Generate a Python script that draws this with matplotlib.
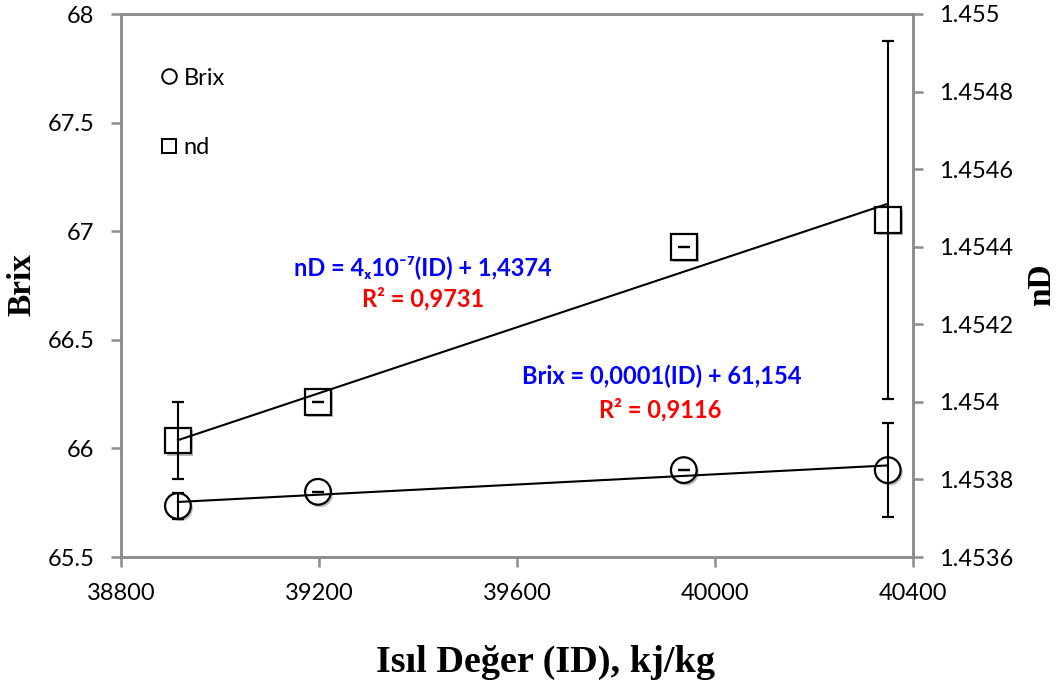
import numpy as np
import matplotlib
matplotlib.use("Agg")
import matplotlib.pyplot as plt
import matplotlib.patheffects as pe
from matplotlib.lines import Line2D
from matplotlib.ticker import FuncFormatter, MultipleLocator

# data
isil_deger = [38915, 39198, 39937, 40349]
brix = [65.735, 65.80, 65.90, 65.90]
brix_err = [0.058, 0.0, 0.0, 0.217]
nd = [1.45390, 1.45400, 1.45440, 1.454469]
nd_err = [0.0001, 0.0, 0.0, 0.000462]

plt.rcParams['font.family'] = ['Lato', 'DejaVu Sans']

fig = plt.figure(figsize=(10.62, 6.84), dpi=100)
ax1 = fig.add_axes([121/1062, 1-557/684, (913-121)/1062, (557-14)/684])
ax2 = ax1.twinx()

shadow = [pe.SimplePatchShadow(offset=(1.5, -1.8), shadow_rgbFace='0.35', alpha=0.4), pe.Normal()]

# brix (left axis)
ax1.plot(isil_deger, brix, 'o', ms=18.5, mfc='white', mec='black', mew=1.6,
         path_effects=shadow, zorder=2)
ax1.errorbar(isil_deger, brix, yerr=brix_err, fmt='none', ecolor='black',
             elinewidth=1.5, capsize=4, capthick=1.6, zorder=3)
k, b = np.polyfit(isil_deger, brix, 1)
xs = np.array([isil_deger[0], isil_deger[-1]])
ax1.plot(xs, k*xs + b, color='black', lw=1.5, zorder=4)

# nD (right axis)
ax2.plot(isil_deger, nd, 's', ms=18.5, mfc='white', mec='black', mew=1.6,
         path_effects=shadow, zorder=2)
ax2.errorbar(isil_deger, nd, yerr=nd_err, fmt='none', ecolor='black',
             elinewidth=1.5, capsize=4, capthick=1.6, zorder=3)
k2, b2 = np.polyfit(isil_deger, nd, 1)
ax2.plot(xs, k2*xs + b2, color='black', lw=1.5, zorder=4)

ax1.set_xlim(38800, 40400)
ax1.set_ylim(65.5, 68)
ax2.set_ylim(1.4536, 1.455)
ax1.xaxis.set_major_locator(MultipleLocator(400))
ax1.yaxis.set_major_locator(MultipleLocator(0.5))
ax2.yaxis.set_major_locator(MultipleLocator(0.0002))

def fmt(v, pos):
    s = f"{v:.4f}".rstrip('0').rstrip('.')
    return s

ax1.yaxis.set_major_formatter(FuncFormatter(fmt))
ax2.yaxis.set_major_formatter(FuncFormatter(fmt))
ax1.xaxis.set_major_formatter(FuncFormatter(lambda v, p: f"{v:.0f}"))

for ax in (ax1, ax2):
    for sp in ax.spines.values():
        sp.set_color('#8c8c8c')
        sp.set_linewidth(1.8)
    ax.tick_params(direction='out', length=7, width=1.8, color='#8c8c8c',
                   labelsize=17, pad=12)
ax1.tick_params(axis='x', pad=12)

ax1.set_xlabel("Isıl Değer (ID), kj/kg", family='Liberation Serif',
               fontweight='bold', fontsize=27.5, va='center')
ax1.xaxis.set_label_coords((545-121)/792, (557-662)/543)
ax1.set_ylabel("Brix", family='Liberation Serif', fontweight='bold',
               fontsize=24, va='center')
ax1.yaxis.set_label_coords((22-121)/792, (557-285)/543)
ax2.set_ylabel("nD", family='Liberation Serif', fontweight='bold',
               fontsize=24, rotation=90, va='center')
ax2.yaxis.set_label_coords((1042-121)/792, (557-285)/543)

# trendline equations
blue = '#0000ff'
red = '#ff0000'
ax1.text(39410, 66.835, "nD = 4ₓ10⁻⁷(ID) + 1,4374", color=blue,
         fontweight='bold', fontsize=17, ha='center', va='center')
ax1.text(39410, 66.69, "R² = 0,9731", color=red,
         fontweight='bold', fontsize=17, ha='center', va='center')
ax1.text(39893, 66.33, "Brix = 0,0001(ID) + 61,154", color=blue,
         fontweight='bold', fontsize=17, ha='center', va='center')
ax1.text(39889, 66.177, "R² = 0,9116", color=red,
         fontweight='bold', fontsize=17, ha='center', va='center')

handles = [Line2D([], [], ls='none', marker='o', ms=10.5, mfc='white', mec='black', mew=1.4),
           Line2D([], [], ls='none', marker='s', ms=10.5, mfc='white', mec='black', mew=1.4)]
ax2.legend(handles, ["Brix", "nd"], loc='upper left', bbox_to_anchor=(0.052, 0.901),
           frameon=False, fontsize=17, handlelength=0.6, handletextpad=0.3,
           labelspacing=2.05, borderaxespad=0, borderpad=0)

fig.savefig("out.png", dpi=100)
